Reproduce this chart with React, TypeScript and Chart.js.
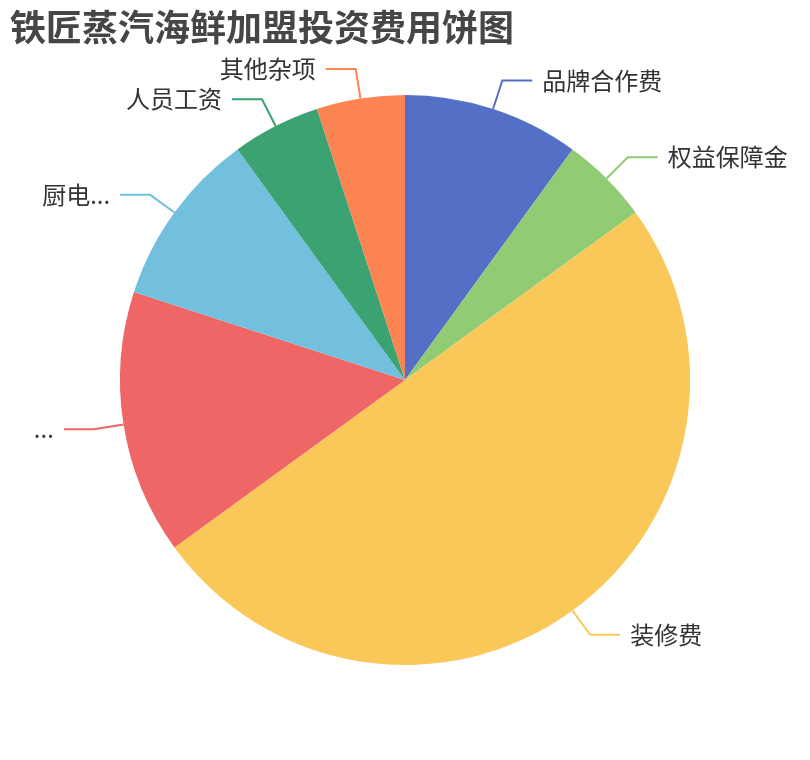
import React, { useEffect, useRef } from "react";
import { Chart, registerables } from "chart.js";

Chart.register(...registerables);

const TITLE = "铁匠蒸汽海鲜加盟投资费用饼图";
const categories = ["品牌合作费", "权益保障金", "装修费", "...", "厨电...", "人员工资", "其他杂项"];
const values = [10, 5, 50, 15, 10, 5, 5];
const colors = ["#5470c6", "#91cc75", "#fac858", "#ee6666", "#73c0de", "#3ba272", "#fc8452"];

const FONT = '"Noto Sans CJK SC", "Noto Sans", sans-serif';

const labelPlugin = {
  id: "pieLabels",
  afterDraw(chart: any) {
    const ctx = chart.ctx;
    ctx.save();
    // title
    ctx.fillStyle = "#464646";
    ctx.font = `bold 36px ${FONT}`;
    ctx.textAlign = "left";
    ctx.textBaseline = "middle";
    ctx.fillText(TITLE, 10, 27);

    const meta = chart.getDatasetMeta(0);
    meta.data.forEach((arc: any, i: number) => {
      const p = arc.getProps(["x", "y", "startAngle", "endAngle", "outerRadius"], true);
      const mid = (p.startAngle + p.endAngle) / 2;
      const cos = Math.cos(mid);
      const sin = Math.sin(mid);
      const x0 = p.x + p.outerRadius * cos;
      const y0 = p.y + p.outerRadius * sin;
      const x1 = p.x + (p.outerRadius + 30) * cos;
      const y1 = p.y + (p.outerRadius + 30) * sin;
      const right = cos >= 0;
      const x2 = x1 + (right ? 30 : -30);
      ctx.strokeStyle = colors[i];
      ctx.lineWidth = 2;
      ctx.beginPath();
      ctx.moveTo(x0, y0);
      ctx.lineTo(x1, y1);
      ctx.lineTo(x2, y1);
      ctx.stroke();
      ctx.fillStyle = "#333333";
      ctx.font = `24px ${FONT}`;
      ctx.textAlign = right ? "left" : "right";
      ctx.textBaseline = "middle";
      ctx.fillText(categories[i], x2 + (right ? 10 : -10), y1);
    });
    ctx.restore();
  },
};

export default function App() {
  const ref = useRef<HTMLCanvasElement | null>(null);
  useEffect(() => {
    if (!ref.current) return;
    const chart = new Chart(ref.current, {
      type: "pie",
      data: {
        labels: categories,
        datasets: [
          {
            data: values,
            backgroundColor: colors,
            borderWidth: 0,
          },
        ],
      },
      options: {
        animation: false,
        responsive: true,
        maintainAspectRatio: false,
        layout: { padding: { left: 120, right: 120, top: 95, bottom: 95 } },
        plugins: {
          legend: { display: false },
          tooltip: { enabled: false },
          title: { display: false },
        },
      },
      plugins: [labelPlugin],
    });
    return () => chart.destroy();
  }, []);
  return (
    <div style={{ position: "fixed", left: 0, top: 0, width: 810, height: 760, background: "#fff" }}>
      <canvas ref={ref} />
    </div>
  );
}
